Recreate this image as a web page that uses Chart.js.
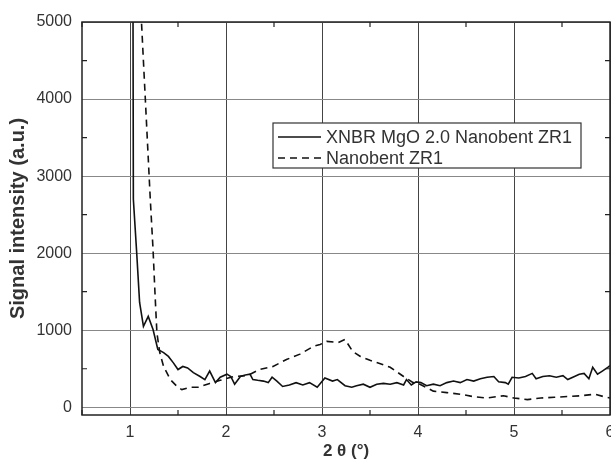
<!DOCTYPE html>
<html>
<head>
<meta charset="utf-8">
<script src="https://cdn.jsdelivr.net/npm/chart.js@4.4.1/dist/chart.umd.min.js"></script>
<style>
  html, body { margin: 0; padding: 0; background: #fff; }
  #wrap { width: 611px; height: 462px; }
</style>
</head>
<body>
<div id="wrap"><canvas id="xrdChart" width="611" height="462"></canvas></div>
<script>
// values (2 theta in degrees, intensity in a.u.)
const compositeLabel = 'XNBR MgO 2.0 Nanobent ZR1';
const compositeX = [1.03, 1.035, 1.07, 1.10, 1.14, 1.19, 1.24, 1.29, 1.35, 1.40, 1.45, 1.50, 1.55, 1.60, 1.66, 1.73, 1.78, 1.83, 1.89, 1.94,
  2.01, 2.05, 2.09, 2.15, 2.20, 2.25, 2.28, 2.33, 2.39, 2.44, 2.48, 2.53, 2.59, 2.66, 2.73, 2.80, 2.87, 2.95,
  3.03, 3.11, 3.16, 3.24, 3.31, 3.36, 3.43, 3.50, 3.57, 3.64, 3.71, 3.78, 3.85, 3.88, 3.93, 3.98,
  4.03, 4.09, 4.16, 4.23, 4.30, 4.37, 4.44, 4.51, 4.58, 4.65, 4.72, 4.79, 4.84, 4.91, 4.94, 4.98,
  5.05, 5.12, 5.19, 5.23, 5.30, 5.37, 5.44, 5.51, 5.56, 5.63, 5.68, 5.73, 5.78, 5.82, 5.87, 5.92, 5.98, 6.0];
const compositeY = [6000, 2700, 2000, 1360, 1050, 1180, 1010, 750, 710, 660, 580, 490, 530, 510, 450, 400, 360, 470, 320, 390,
  430, 400, 300, 400, 420, 430, 360, 350, 340, 320, 390, 340, 270, 290, 320, 290, 320, 260,
  380, 340, 360, 280, 260, 280, 300, 260, 300, 310, 300, 320, 290, 360, 290, 330,
  320, 280, 300, 280, 320, 340, 320, 360, 340, 370, 390, 400, 330, 320, 300, 390,
  380, 400, 440, 370, 400, 410, 390, 410, 360, 400, 430, 440, 370, 520, 430, 470, 520, 540];

const clayLabel = 'Nanobent ZR1';
const clayX = [1.11, 1.12, 1.16, 1.21, 1.24, 1.26, 1.28, 1.31, 1.35, 1.42, 1.49, 1.54, 1.63, 1.71, 1.83, 1.94,
  2.08, 2.22, 2.35, 2.49, 2.63, 2.77, 2.91, 2.98, 3.05, 3.17, 3.24, 3.32, 3.40, 3.50, 3.57, 3.71, 3.85, 3.95,
  4.02, 4.16, 4.30, 4.44, 4.57, 4.72, 4.89, 5.0, 5.14, 5.28, 5.42, 5.56, 5.70, 5.84, 5.96, 6.0];
const clayY = [5600, 4990, 3990, 2730, 2050, 1490, 970, 710, 530, 360, 270, 230, 260, 260, 310, 350,
  400, 410, 490, 530, 620, 690, 790, 815, 855, 840, 880, 725, 660, 610, 580, 520, 400, 320,
  300, 210, 190, 170, 140, 120, 150, 120, 100, 120, 130, 140, 150, 170, 130, 120];

const xTicks = [1, 2, 3, 4, 5, 6];
const yTicks = [0, 1000, 2000, 3000, 4000, 5000];
const xMinorTicks = [0.5, 1.5, 2.5, 3.5, 4.5, 5.5];
const yMinorTicks = [500, 1500, 2500, 3500, 4500];

const fontFamily = '"Liberation Sans", Arial, sans-serif';

function toPoints(xs, ys) {
  return xs.map(function(x, i) {
    return { x: x, y: ys[i] };
  });
}

// frame round the plot plus inward minor ticks
const framePlugin = {
  id: 'frame',
  afterDatasetsDraw: function(chart) {
    const ctx = chart.ctx;
    const a = chart.chartArea;
    const xs = chart.scales.x;
    const ys = chart.scales.y;
    ctx.save();
    ctx.strokeStyle = '#222';
    ctx.lineWidth = 1.5;
    ctx.strokeRect(a.left, a.top, a.right - a.left, a.bottom - a.top);
    ctx.lineWidth = 1.2;
    ctx.beginPath();
    xMinorTicks.forEach(function(v) {
      const px = xs.getPixelForValue(v);
      ctx.moveTo(px, a.bottom); ctx.lineTo(px, a.bottom - 5);
      ctx.moveTo(px, a.top); ctx.lineTo(px, a.top + 5);
    });
    yMinorTicks.forEach(function(v) {
      const py = ys.getPixelForValue(v);
      ctx.moveTo(a.left, py); ctx.lineTo(a.left + 5, py);
      ctx.moveTo(a.right, py); ctx.lineTo(a.right - 5, py);
    });
    ctx.stroke();
    ctx.restore();
  }
};

// boxed legend drawn inside the plot
const boxLegendPlugin = {
  id: 'boxLegend',
  afterDraw: function(chart) {
    const ctx = chart.ctx;
    const box = { left: 273, top: 123, right: 581, bottom: 168 };
    ctx.save();
    ctx.fillStyle = '#fff';
    ctx.fillRect(box.left, box.top, box.right - box.left, box.bottom - box.top);
    ctx.strokeStyle = '#333';
    ctx.lineWidth = 1.2;
    ctx.strokeRect(box.left, box.top, box.right - box.left, box.bottom - box.top);
    ctx.font = '18px ' + fontFamily;
    ctx.textBaseline = 'middle';
    chart.data.datasets.forEach(function(ds, i) {
      const y = box.top + 14 + i * 21;
      ctx.strokeStyle = '#111';
      ctx.lineWidth = 1.6;
      ctx.setLineDash(ds.borderDash || []);
      ctx.beginPath();
      ctx.moveTo(box.left + 5, y);
      ctx.lineTo(box.left + 48, y);
      ctx.stroke();
      ctx.setLineDash([]);
      ctx.fillStyle = '#333';
      ctx.fillText(ds.label, box.left + 53, y + 1);
    });
    ctx.restore();
  }
};

function generateChart(context) {
  return new Chart(context, {
    type: 'line',
    data: {
      datasets: [
        {
          label: compositeLabel,
          data: toPoints(compositeX, compositeY),
          borderColor: '#111',
          borderWidth: 1.6,
          pointRadius: 0,
          fill: false,
          tension: 0
        },
        {
          label: clayLabel,
          data: toPoints(clayX, clayY),
          borderColor: '#111',
          borderWidth: 1.6,
          borderDash: [7, 5],
          pointRadius: 0,
          fill: false,
          tension: 0
        }
      ]
    },
    options: {
      responsive: false,
      animation: false,
      layout: { padding: { top: 22, right: 1, left: 0, bottom: 0 } },
      plugins: {
        legend: { display: false },
        tooltip: { enabled: false }
      },
      scales: {
        x: {
          type: 'linear',
          min: 0.5,
          max: 6,
          afterBuildTicks: function(scale) {
            scale.ticks = xTicks.map(function(v) { return { value: v }; });
          },
          afterFit: function(scale) {
            scale.height = 47;
            scale.paddingRight = 0;
          },
          grid: { color: '#444', lineWidth: 1, drawTicks: false },
          border: { display: false },
          ticks: {
            padding: 8,
            color: '#333',
            font: { family: fontFamily, size: 16 },
            callback: function(value) { return String(value); }
          },
          title: {
            display: true,
            text: '2 θ (°)',
            color: '#333',
            padding: { top: 0, bottom: 0 },
            font: { family: fontFamily, size: 17, weight: 'bold' }
          }
        },
        y: {
          min: -100,
          max: 5000,
          afterBuildTicks: function(scale) {
            scale.ticks = yTicks.map(function(v) { return { value: v }; });
          },
          afterFit: function(scale) {
            scale.width = 82;
          },
          grid: { color: '#888', lineWidth: 1, drawTicks: false },
          border: { display: false },
          ticks: {
            padding: 10,
            color: '#333',
            font: { family: fontFamily, size: 16 },
            callback: function(value) { return String(value); }
          },
          title: {
            display: true,
            text: 'Signal intensity (a.u.)',
            color: '#333',
            padding: { top: 6, bottom: 0 },
            font: { family: fontFamily, size: 20, weight: 'bold' }
          }
        }
      }
    },
    plugins: [framePlugin, boxLegendPlugin]
  });
}

generateChart(document.getElementById('xrdChart'));
</script>
</body>
</html>
